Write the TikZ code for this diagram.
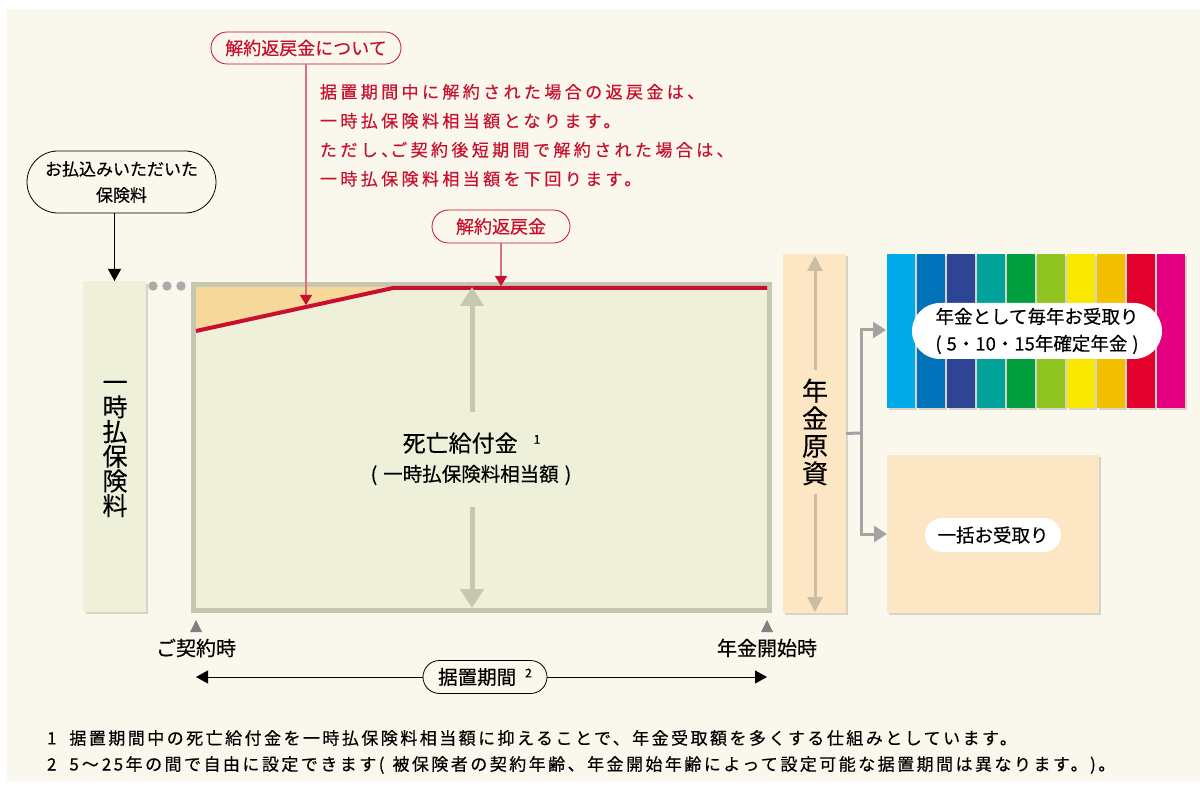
\documentclass[tikz,border=0pt]{standalone}
\usepackage{fontspec}
\setmainfont{Noto Sans CJK JP}[FakeBold=0.35]
\newfontfamily\jls{Noto Sans CJK JP}[LetterSpace=20,FakeBold=0.35]
\newfontfamily\jfn{Noto Sans CJK JP}[LetterSpace=14.5,FakeBold=0.35]
\usetikzlibrary{shapes.misc,arrows.meta}
\definecolor{bgc}{HTML}{FAF7EC}
\definecolor{boxg}{HTML}{EEF0DA}
\definecolor{frameg}{HTML}{C6C7B0}
\definecolor{orng}{HTML}{F6D89A}
\definecolor{peach}{HTML}{FDE6C4}
\definecolor{jred}{HTML}{C8102E}
\definecolor{lred}{HTML}{D8707E}
\definecolor{tanc}{HTML}{CBBDA3}
\definecolor{gryc}{HTML}{A3A3A3}
\definecolor{dotc}{HTML}{ABABAB}
\definecolor{shd}{HTML}{D6D4C9}
\definecolor{tric}{HTML}{808080}
\definecolor{ba}{HTML}{00A9E8}
\definecolor{bb}{HTML}{0072BA}
\definecolor{bc}{HTML}{2E4596}
\definecolor{bd}{HTML}{00A29A}
\definecolor{be}{HTML}{009E3D}
\definecolor{bf}{HTML}{8FC31F}
\definecolor{bg}{HTML}{F8E800}
\definecolor{bh}{HTML}{F3C000}
\definecolor{bi}{HTML}{E3002D}
\definecolor{bj}{HTML}{E4007F}
\tikzset{
  pill/.style={rounded rectangle, inner sep=0pt},
  plain/.style={inner sep=0pt, outer sep=0pt},
  garrow/.style={frameg, line width=5pt, -{Triangle[length=19pt,width=23pt]}},
  tarrow/.style={tanc, line width=3pt, -{Triangle[length=15pt,width=15pt]}},
  redarrow/.style={lred, line width=1.5pt, -{Triangle[length=10pt,width=12pt,color=jred]}},
  grayarrow/.style={gryc, line width=3pt, -{Triangle[length=13pt,width=16pt]}},
  blkarrow/.style={black, line width=1pt, -{Triangle[length=12pt,width=13pt]}},
}
\begin{document}
\begin{tikzpicture}[x=1pt,y=-1pt]
\useasboundingbox (0,0) rectangle (1200,786);
\fill[bgc] (7,9) rectangle (1200,781);

% ---- premium pill and lump-sum premium column
\node[pill, draw=black, line width=0.8pt, fill=bgc, minimum width=189pt, minimum height=62pt,
      align=center, font=\fontsize{17}{26}\selectfont] (pay) at (121.5,182) {お払込みいただいた\\保険料};
\fill[shd] (86,284) rectangle (148,614);
\node[plain, fill=boxg, minimum width=63pt, minimum height=331pt] (lump) at (114.5,446.5) {};
\node[plain, align=center, font=\fontsize{25}{24.7}\selectfont] (lumpt) at (115,449) {一\\時\\払\\保\\険\\料};
\draw[blkarrow] (pay.south -| lump.north) -- (lump.north);
\foreach \x in {153,167,181} \fill[dotc] (\x,286) circle (4.7);

% ---- main box
\node[plain, draw=frameg, line width=5pt, fill=boxg, minimum width=576pt, minimum height=326pt] (main) at (481.5,447.5) {};
\fill[orng] (196,287) -- (393,287) -- (196,331) -- cycle;
\draw[jred, line width=4pt] (196,331) -- (393,288) -- (767,288);

\node[plain, font=\fontsize{23}{23}\selectfont] (death1) at (471.5,443) {死亡給付金\hspace{16pt}\raisebox{8pt}{\fontsize{12}{12}\selectfont 1}};
\node[plain, font=\fontsize{19.5}{19.5}\selectfont] (death2) at (471,475) {(\hspace{6pt}一時払保険料相当額\hspace{6pt})};
\coordinate (au1) at (472,412); \coordinate (au2) at (472,287);
\coordinate (ad1) at (472,507); \coordinate (ad2) at (472,608);
\draw[garrow] (au1) -- (au2);
\draw[garrow] (ad1) -- (ad2);

% ---- surrender value notes
\node[pill, draw=jred, line width=0.8pt, fill=bgc, minimum width=190pt, minimum height=32pt,
      text=jred, font=\fontsize{18}{18}\selectfont] (q1) at (306,48) {解約返戻金について};
\coordinate (rt) at (306,305);
\draw[redarrow] (q1.south) -- (rt);
\node[plain, anchor=north west, align=left, text=jred, font=\jls\fontsize{17}{29}\selectfont] (note) at (320,84)
 {据置期間中に解約された場合の返戻金は、\\一時払保険料相当額となります。\\ただし、\hspace{-8pt}ご契約後短期間で解約された場合は、\\一時払保険料相当額を下回ります。};
\node[pill, draw=jred, line width=0.8pt, fill=bgc, minimum width=138pt, minimum height=33pt,
      text=jred, font=\fontsize{18}{18}\selectfont] (q2) at (501,226.5) {解約返戻金};
\coordinate (rt2) at (501,286);
\draw[redarrow] (q2.south) -- (rt2);

% ---- annuity fund column
\fill[shd] (785,256) rectangle (848,615);
\node[plain, fill=peach, minimum width=63pt, minimum height=359pt] (fund) at (814.5,433.5) {};
\node[plain, align=center, font=\fontsize{26}{27.5}\selectfont] (fundt) at (815,432) {年\\金\\原\\資};
\coordinate (fu1) at (815,370); \coordinate (fu2) at (815,256);
\coordinate (fd1) at (815,494); \coordinate (fd2) at (815,612);
\draw[tarrow] (fu1) -- (fu2);
\draw[tarrow] (fd1) -- (fd2);

% ---- colour bars
\foreach \c [count=\i from 0] in {ba,bb,bc,bd,be,bf,bg,bh,bi,bj} {
  \fill[shd] (889+30*\i,256) rectangle ++(28,154);
  \fill[\c] (887+30*\i,254) rectangle ++(28,154);
}
\node[plain, minimum width=300pt, minimum height=154pt] (bars) at (1036,330) {};
\node[pill, fill=white, minimum width=250pt, minimum height=56pt, align=center,
      font=\fontsize{18.5}{27}\selectfont] (ann) at (1037,331) {年金として毎年お受取り\\(\hspace{5pt}5・10・15年確定年金\hspace{5pt})};

% ---- lump sum box
\fill[shd] (889,457) rectangle (1101,615);
\node[plain, fill=peach, minimum width=212pt, minimum height=158pt] (lumpbox) at (993,534) {};
\node[pill, fill=white, minimum width=136pt, minimum height=34pt, font=\fontsize{18.5}{18.5}\selectfont] (lumpp) at (993,535) {一括お受取り};

% ---- connectors from fund
\coordinate (jn) at (861,433);
\draw[gryc, line width=3pt] (fund.east) -- (jn);
\draw[grayarrow] (jn) |- (bars.west);
\draw[grayarrow] (jn) |- (lumpbox.west);

% ---- time axis
\fill[tric] (190,632) -- (202,632) -- (196,620) -- cycle;
\fill[tric] (761,632) -- (773,632) -- (767,620) -- cycle;
\node[plain, font=\fontsize{20}{20}\selectfont] (start) at (196,648) {ご契約時};
\node[plain, font=\fontsize{20}{20}\selectfont] (open) at (767,648) {年金開始時};
\coordinate (pl) at (196,677); \coordinate (pr) at (767,677);
\node[pill, draw=black, line width=0.8pt, fill=bgc, minimum width=124pt, minimum height=33pt,
      font=\fontsize{19.5}{19.5}\selectfont] (defer) at (485,677) {据置期間\hspace{9pt}\raisebox{7pt}{\fontsize{12}{12}\selectfont 2}};
\draw[blkarrow] (defer.west) -- (pl);
\draw[blkarrow] (defer.east) -- (pr);

% ---- footnotes
\node[plain, anchor=west, font=\jfn\fontsize{17}{17}\selectfont] (fn1) at (47,738)
 {1\hspace{13pt}据置期間中の死亡給付金を一時払保険料相当額に抑えることで、年金受取額を多くする仕組みとしています。};
\node[plain, anchor=west, font=\jfn\fontsize{17}{17}\selectfont] (fn2) at (47,765)
 {2\hspace{13pt}5\hspace{3pt}～\hspace{3pt}25年の間で自由に設定できます(\hspace{8pt}被保険者の契約年齢、年金開始年齢によって設定可能な据置期間は異なります。)。};
\end{tikzpicture}
\end{document}
